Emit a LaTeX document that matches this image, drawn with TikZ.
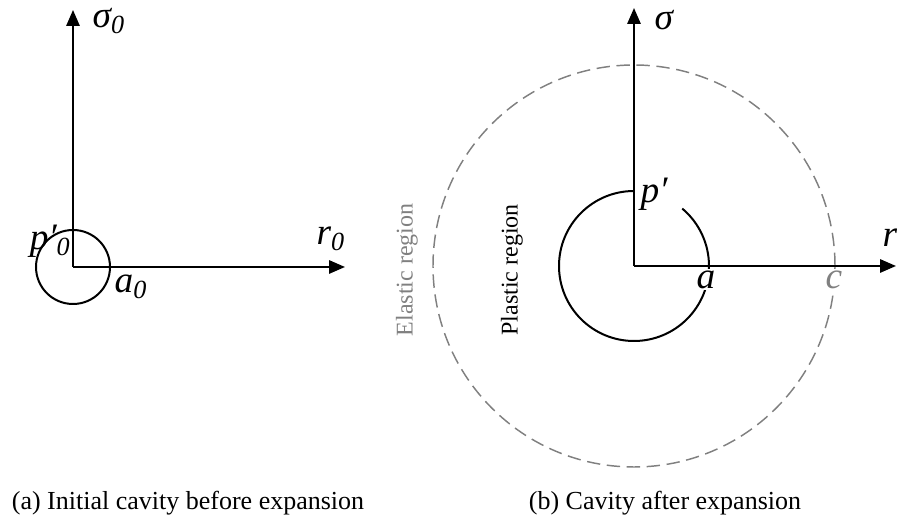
\documentclass[tikz,border=0pt]{standalone}
\usepackage{fontspec}
\setmainfont{Liberation Serif}
\usetikzlibrary{arrows.meta}

\begin{document}
\begin{tikzpicture}[x=.75pt,y=.75pt,
 axis/.style={line width=1.5pt,-{Triangle[length=12pt,width=10pt]}},
 solid line/.style={line width=1.5pt},
 dash line/.style={black!50,line width=1.1pt,dash pattern=on 10pt off 5pt},
 lab/.style={font=\fontsize{28}{28}\selectfont\itshape,inner sep=1pt},
 region/.style={font=\fontsize{18}{18}\selectfont,rotate=90},
 captext/.style={font=\fontsize{19.5}{20}\selectfont,anchor=base}]
\clip (0,0) rectangle (897,521);
% (a) cavity before expansion
\coordinate (O0) at (73,254);
\coordinate (s0tip) at (73,511);
\coordinate (r0tip) at (345,254);
\draw[solid line] (O0) circle[radius=37];
\node[lab,anchor=west] (s0) at (91,500) {σ\textsubscript{0}};
\node[lab,anchor=east] (p0) at (72,280) {p′\textsubscript{0}};
\node[lab,anchor=west] (a0) at (113,234) {a\textsubscript{0}};
\node[lab,anchor=west] (r0) at (315,282) {r\textsubscript{0}};
\draw[axis] (O0) -- (s0tip);
\draw[axis] (O0) -- (r0tip);
\node[captext] (capa) at (188,11) {(a) Initial cavity before expansion};
% (b) cavity after expansion
\coordinate (O) at (634,255);
\coordinate (stip) at (634,513);
\coordinate (rtip) at (896,255);
\draw[dash line] (O) circle[radius=201];
\draw[solid line] (634,330) arc[start angle=90,end angle=410,radius=75];
\node[lab,anchor=west] (s) at (653,501) {σ};
\node[lab,anchor=west] (p) at (639,327) {p′};
\node[lab,fill=white,anchor=north] (a) at (706,252) {a};
\node[lab,fill=white,text=black!50,anchor=north] (c) at (834,252) {c};
\node[lab,anchor=west] (r) at (881,283) {r};
\node[region,text=black!50] (elastic) at (407,251) {Elastic region};
\node[region] (plastic) at (512,251) {Plastic region};
\draw[axis] (O) -- (stip);
\draw[axis] (O) -- (rtip);
\node[captext] (capb) at (665,11) {(b) Cavity after expansion};
\end{tikzpicture}
\end{document}
